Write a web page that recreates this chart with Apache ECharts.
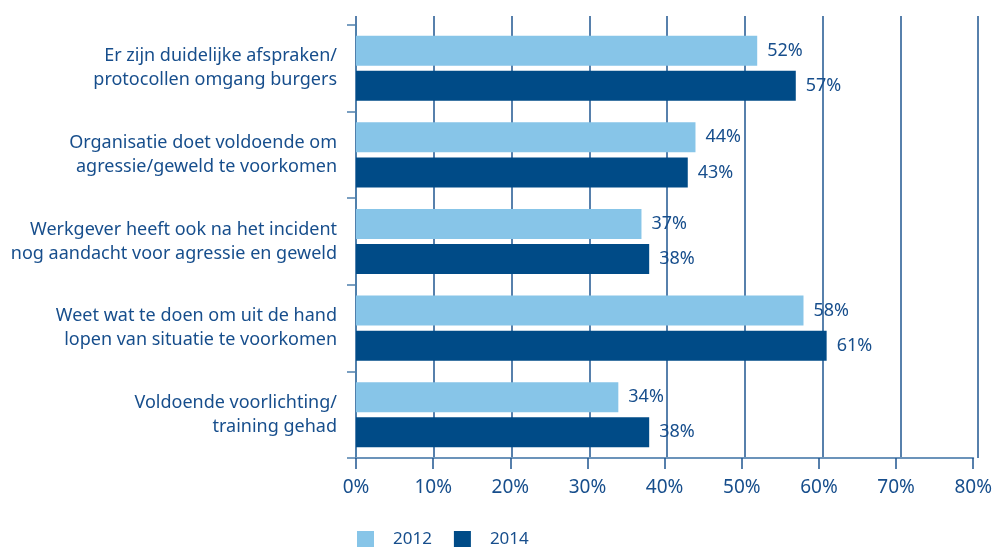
<!DOCTYPE html>
<html>
<head>
<meta charset="utf-8">
<script src="https://cdn.jsdelivr.net/npm/echarts@6/dist/echarts.min.js"></script>
<style>
  html, body { margin: 0; padding: 0; background: #fff; }
  #chart { width: 995px; height: 547px; }
</style>
</head>
<body>
<div id="chart"></div>
<script>
// statements, top to bottom
var categories = [
    'Er zijn duidelijke afspraken/\nprotocollen omgang burgers',
    'Organisatie doet voldoende om\nagressie/geweld te voorkomen',
    'Werkgever heeft ook na het incident\nnog aandacht voor agressie en geweld',
    'Weet wat te doen om uit de hand\nlopen van situatie te voorkomen',
    'Voldoende voorlichting/\ntraining gehad'
];
var values2012 = [52, 44, 37, 58, 34];
var values2014 = [57, 43, 38, 61, 38];
var seriesNames = ['2012', '2014'];
var xTicks = [0, 10, 20, 30, 40, 50, 60, 70, 80];

var textColor = '#174e8c',
    fontFamily = 'Noto Sans',
    lightBlue = '#87c5e8',
    darkBlue = '#004b87';

function createBar() {
    var myChart = echarts.init(document.getElementById('chart'));

    var labelStyle = {
        show: true,
        position: 'right',
        distance: 10,
        color: textColor,
        fontFamily: fontFamily,
        fontSize: 18,
        formatter: '{c}%'
    };

    var option = {
        animation: false,
        textStyle: { fontFamily: fontFamily, color: textColor },
        legend: {
            data: seriesNames,
            left: 352,
            top: 526,
            itemWidth: 17,
            itemHeight: 17,
            itemGap: 22,
            icon: 'rect',
            textStyle: {
                color: textColor,
                fontSize: 17,
                fontFamily: fontFamily,
                padding: [0, 0, 0, 14]
            }
        },
        grid: [
            // grid for the gridlines only (they run a bit above the bars)
            { left: 356, right: 17, top: 16, bottom: 89 },
            { left: 356, right: 17, top: 25, bottom: 89 }
        ],
        xAxis: [{
            gridIndex: 0,
            type: 'value',
            min: xTicks[0],
            max: xTicks[xTicks.length - 1],
            interval: 10,
            axisLine: { show: false },
            axisTick: { show: false },
            axisLabel: { show: false },
            splitLine: {
                show: true,
                lineStyle: { color: '#1f5690', width: 1.5 }
            }
        }, {
            gridIndex: 1,
            type: 'value',
            min: xTicks[0],
            max: xTicks[xTicks.length - 1],
            interval: 10,
            axisLine: {
                show: true,
                lineStyle: { color: '#6b93ba', width: 2 }
            },
            axisTick: {
                show: true,
                length: 11,
                lineStyle: { color: '#1f5690', width: 1.5 }
            },
            axisLabel: {
                margin: 20,
                color: textColor,
                fontSize: 19,
                fontFamily: fontFamily,
                formatter: '{value}%'
            },
            splitLine: { show: false }
        }],
        yAxis: [{
            gridIndex: 0,
            type: 'category',
            data: categories,
            show: false
        }, {
            gridIndex: 1,
            type: 'category',
            data: categories,
            inverse: true,
            axisLine: {
                show: true,
                lineStyle: { color: '#4f80ad', width: 1.5 }
            },
            axisTick: {
                show: true,
                length: 9,
                lineStyle: { color: '#4f80ad', width: 1.5 }
            },
            axisLabel: {
                margin: 19,
                color: textColor,
                fontSize: 18,
                lineHeight: 24,
                fontFamily: fontFamily,
                align: 'right'
            }
        }],
        series: [{
            name: seriesNames[0],
            type: 'bar',
            xAxisIndex: 1,
            yAxisIndex: 1,
            data: values2012,
            barWidth: 30,
            barGap: '17%',
            itemStyle: { color: lightBlue },
            label: labelStyle
        }, {
            name: seriesNames[1],
            type: 'bar',
            xAxisIndex: 1,
            yAxisIndex: 1,
            data: values2014,
            barWidth: 30,
            barGap: '17%',
            itemStyle: { color: darkBlue },
            label: labelStyle
        }]
    };

    myChart.setOption(option);
}

createBar();
</script>
</body>
</html>
